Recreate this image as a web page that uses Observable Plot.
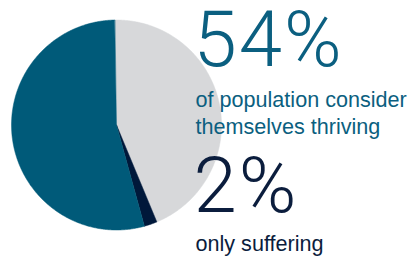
<!DOCTYPE html>
<html>
<head>
<meta charset="utf-8">
<script src="https://cdn.jsdelivr.net/npm/d3@7"></script>
<script src="https://cdn.jsdelivr.net/npm/@observablehq/plot@0.6"></script>
<style>
  html, body { margin: 0; padding: 0; background: #fff; }
  #chart { width: 412px; height: 256px; }
  .big text { letter-spacing: 2px; }
</style>
</head>
<body>
<div id="chart"></div>
<script>
// Data
const slices = ["Other", "Suffering", "Thriving"];
const shares = [44, 2, 54];
const sliceColors = ["#d7d8da", "#00183a", "#005a79"];

const bigLabels = ["54%", "2%"];
const bigColors = ["#0b5f80", "#0b1d3d"];
const captions = [["of population consider", "themselves thriving"], ["only suffering"]];

// Pie geometry from data
const startDeg = -1;
const pie = d3.pie().sort(null).startAngle(startDeg * Math.PI / 180).endAngle((360 + startDeg) * Math.PI / 180);
const arcs = pie(shares);
const pts = [];
arcs.forEach((a, i) => {
  pts.push({slice: slices[i], x: 0, y: 0});
  const n = Math.max(2, Math.ceil((a.endAngle - a.startAngle) / (Math.PI / 360)));
  for (let k = 0; k <= n; k++) {
    const t = a.startAngle + (a.endAngle - a.startAngle) * k / n;
    pts.push({slice: slices[i], x: Math.sin(t), y: Math.cos(t)});
  }
});

const bigText = [
  {t: bigLabels[0], c: bigColors[0], dy: 65},
  {t: bigLabels[1], c: bigColors[1], dy: 211.5}
];
const smallText = [
  {t: captions[0][0], c: bigColors[0], dy: 106.5},
  {t: captions[0][1], c: bigColors[0], dy: 133.2},
  {t: captions[1][0], c: bigColors[1], dy: 250.5}
];

const textMarks = [
  ...bigText.map(d => Plot.text([d.t], {text: x => x, fill: d.c, frameAnchor: "top-left", dx: 193, dy: d.dy,
    textAnchor: "start", lineAnchor: "bottom", fontFamily: "Roboto", fontWeight: 300, fontSize: 78, className: "big"})),
  ...smallText.map(d => Plot.text([d.t], {text: x => x, fill: d.c, frameAnchor: "top-left", dx: 195, dy: d.dy,
    textAnchor: "start", lineAnchor: "bottom", fontFamily: "Liberation Sans", fontSize: 21.6}))
];

const chart = Plot.plot({
  width: 412,
  height: 256,
  margin: 0,
  x: {domain: [-1, 1], range: [11, 221], axis: null},
  y: {domain: [-1, 1], range: [229.5, 19.5], axis: null},
  color: {domain: slices, range: sliceColors},
  style: {background: "transparent"},
  marks: [
    Plot.line(pts, {x: "x", y: "y", z: "slice", fill: "slice", stroke: "slice", strokeWidth: 0.5, curve: "linear-closed"}),
    ...textMarks
  ]
});
document.getElementById("chart").appendChild(chart);
</script>
</body>
</html>
